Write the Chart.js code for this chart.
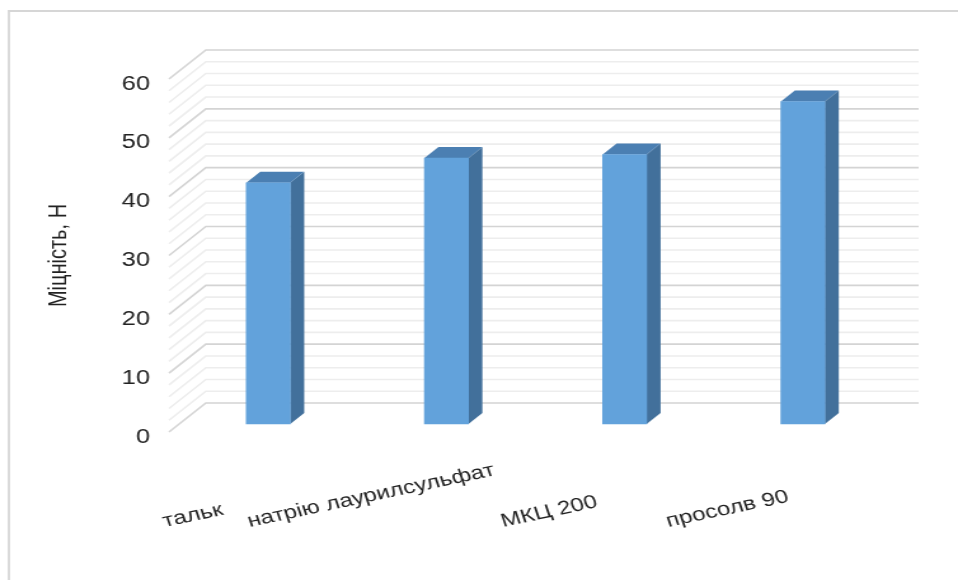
<!DOCTYPE html>
<html>
<head>
<meta charset="utf-8">
<style>
  html, body { margin: 0; padding: 0; background: #fff; overflow: hidden; }
  /* the chart is laid out narrow and stretched horizontally to its display width */
  #wrap { position: absolute; left: 0; top: 0; width: 754px; height: 580px;
          transform: scaleX(1.27056); transform-origin: 0 0; }
</style>
<script src="https://cdn.jsdelivr.net/npm/chart.js@4/dist/chart.umd.min.js"></script>
</head>
<body>
<div id="wrap"><canvas id="c" width="754" height="580"></canvas></div>
<script>
// Data
const categories = ['тальк', 'натрію лаурилсульфат', 'МКЦ 200', 'просолв 90'];
const strength = [41.0, 45.2, 45.8, 54.8];
const yTicks = [0, 10, 20, 30, 40, 50, 60];
const minorStep = 2;

// Look
const FONT = '"Liberation Sans", Arial, sans-serif';
const TEXT = '#222222';
const FRONT = '#62a2db';
const SIDE = '#42709b';
const TOP = '#4b7fb2';
const WALL_DEPTH = 29;   // oblique depth of the back wall
const BAR_INSET = 8;     // distance of the bar faces behind the front edge
const BAR_DEPTH = 11;    // depth of each column
const LABEL_ROT = 15 * Math.PI / 180;
const LABEL_SHIFT = -50;
const LABEL_DROP = 95;

const pseudo3d = {
  id: 'pseudo3d',
  beforeDraw(chart) {
    const { ctx, chartArea: { left, right }, scales: { y } } = chart;
    ctx.save();
    // outer frame
    ctx.strokeStyle = '#d6d6d6';
    ctx.lineWidth = 1.8;
    ctx.beginPath();
    ctx.moveTo(7, 600); ctx.lineTo(7, 11); ctx.lineTo(800, 11);
    ctx.stroke();
    // side and back walls: gridlines every minor step, darker on labelled ticks
    const step = yTicks[1] - yTicks[0];
    for (let v = y.min; v <= y.max + 1e-9; v += minorStep) {
      const py = y.getPixelForValue(v);
      const major = Math.abs(v / step - Math.round(v / step)) < 1e-9;
      ctx.strokeStyle = major ? '#d4d4d4' : '#ededed';
      ctx.lineWidth = 1.6;
      ctx.beginPath();
      ctx.moveTo(left, py);
      ctx.lineTo(left + WALL_DEPTH, py - WALL_DEPTH);
      ctx.lineTo(right + WALL_DEPTH, py - WALL_DEPTH);
      ctx.stroke();
    }
    ctx.restore();
  },
  beforeDatasetsDraw(chart) {
    const ctx = chart.ctx;
    ctx.save();
    ctx.translate(BAR_INSET, -BAR_INSET);
    const d = BAR_DEPTH;
    chart.getDatasetMeta(0).data.forEach(bar => {
      const { x, y, base, width } = bar.getProps(['x', 'y', 'base', 'width'], true);
      const l = x - width / 2, r = x + width / 2;
      ctx.fillStyle = SIDE;
      ctx.beginPath();
      ctx.moveTo(r, y); ctx.lineTo(r + d, y - d); ctx.lineTo(r + d, base - d); ctx.lineTo(r, base);
      ctx.closePath(); ctx.fill();
      ctx.fillStyle = TOP;
      ctx.beginPath();
      ctx.moveTo(l, y); ctx.lineTo(l + d, y - d); ctx.lineTo(r + d, y - d); ctx.lineTo(r, y);
      ctx.closePath(); ctx.fill();
    });
  },
  afterDatasetsDraw(chart) {
    chart.ctx.restore();
  },
  afterDraw(chart) {
    const { ctx, chartArea, scales: { x } } = chart;
    ctx.save();
    ctx.font = '19px ' + FONT;
    ctx.fillStyle = TEXT;
    ctx.textAlign = 'left';
    ctx.textBaseline = 'alphabetic';
    categories.forEach((t, i) => {
      const cx = x.getPixelForValue(i) + LABEL_SHIFT;
      const w = ctx.measureText(t).width;
      ctx.save();
      ctx.translate(cx - w * Math.cos(LABEL_ROT) / 2, chartArea.bottom + LABEL_DROP);
      ctx.rotate(-LABEL_ROT);
      ctx.fillText(t, 0, 0);
      ctx.restore();
    });
    ctx.restore();
  }
};

new Chart(document.getElementById('c'), {
  type: 'bar',
  data: {
    labels: categories,
    datasets: [{
      data: strength,
      backgroundColor: FRONT,
      borderWidth: 0,
      barThickness: 34.6,
      clip: false
    }]
  },
  options: {
    responsive: false,
    animation: false,
    events: [],
    layout: { padding: { left: 0, right: 60, top: 79, bottom: 148 } },
    plugins: { legend: { display: false }, tooltip: { enabled: false } },
    scales: {
      x: { display: false },
      y: {
        min: yTicks[0],
        max: yTicks[yTicks.length - 1],
        ticks: {
          stepSize: yTicks[1] - yTicks[0],
          padding: 15,
          labelOffset: 5,
          color: TEXT,
          font: { family: FONT, size: 20 }
        },
        grid: { display: false, drawTicks: false },
        border: { display: false },
        title: {
          display: true,
          text: 'Міцність, Н',
          color: TEXT,
          font: { family: FONT, size: 20 },
          padding: { top: 34, bottom: 0 }
        },
        afterFit(scale) { scale.width = 133; }
      }
    }
  },
  plugins: [pseudo3d]
});
</script>
</body>
</html>
